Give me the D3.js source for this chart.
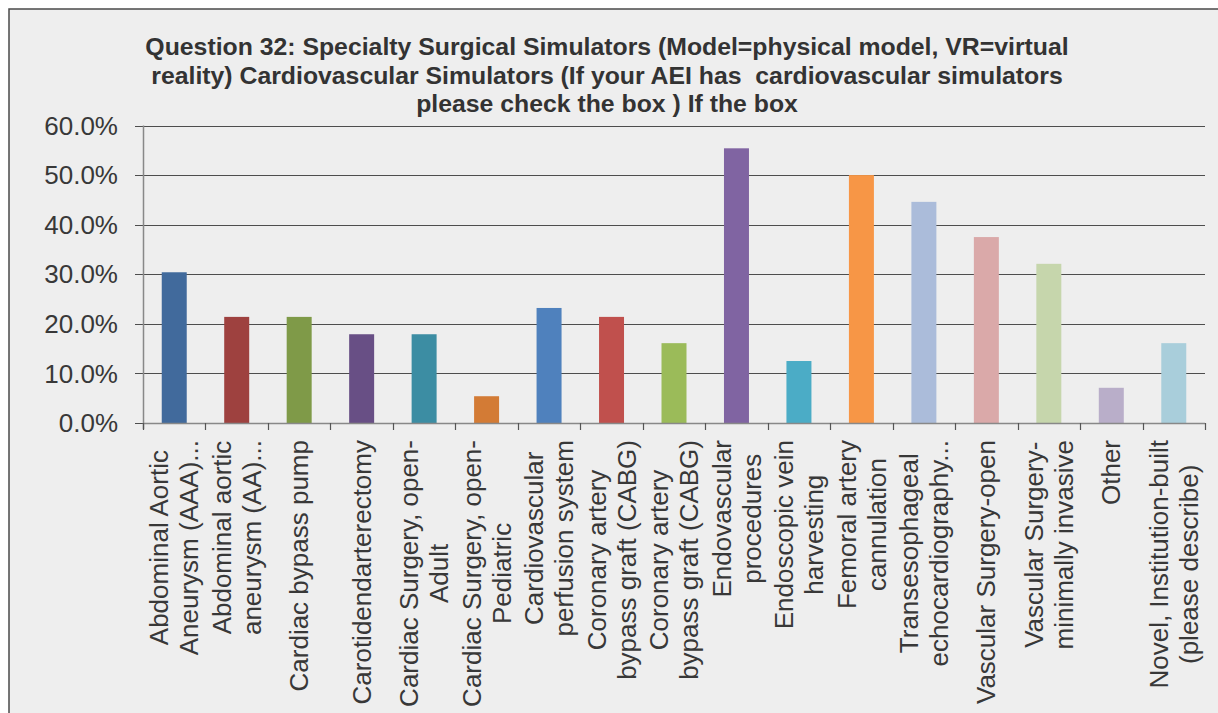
<!DOCTYPE html>
<html>
<head>
<meta charset="utf-8">
<script src="https://cdn.jsdelivr.net/npm/d3@7"></script>
<style>
  body { margin: 0; background: #fff; }
  text { font-family: "Liberation Sans", Arial, sans-serif; fill: #383838; }
</style>
</head>
<body>
<div id="chart"></div>
<script>
// ---------------------- data ----------------------
var titleLines = [
  "Question 32: Specialty Surgical Simulators (Model=physical model, VR=virtual",
  "reality) Cardiovascular Simulators (If your AEI has  cardiovascular simulators",
  "please check the box ) If the box"
];

var categories = [
  ["Abdominal Aortic", "Aneurysm (AAA)..."],
  ["Abdominal aortic", "aneurysm (AA)..."],
  ["Cardiac bypass pump"],
  ["Carotidendarterectomy"],
  ["Cardiac Surgery, open-", "Adult"],
  ["Cardiac Surgery, open-", "Pediatric"],
  ["Cardiovascular", "perfusion system"],
  ["Coronary artery", "bypass graft (CABG)"],
  ["Coronary artery", "bypass graft (CABG)"],
  ["Endovascular", "procedures"],
  ["Endoscopic vein", "harvesting"],
  ["Femoral artery", "cannulation"],
  ["Transesophageal", "echocardiography..."],
  ["Vascular Surgery-open"],
  ["Vascular Surgery-", "minimally invasive"],
  ["Other"],
  ["Novel, Institution-built", "(please describe)"]
];

var values = [0.304, 0.214, 0.214, 0.179, 0.179, 0.054, 0.232, 0.214, 0.161,
              0.554, 0.125, 0.500, 0.446, 0.375, 0.321, 0.071, 0.161];

var colors = ["#416A9C", "#9E413F", "#7F9A48", "#684F85", "#3C8DA3", "#D37B35",
              "#4F81BD", "#C0504D", "#9BBB59", "#8064A2", "#4BACC6", "#F79646",
              "#ABBCDA", "#DAA9A9", "#C6D6AC", "#B9AEC9", "#A9CEDB"];

var yTicks = [0, 0.1, 0.2, 0.3, 0.4, 0.5, 0.6];

// ---------------------- chart ----------------------
var W = 1218, H = 713;
var svg = d3.select("#chart")
     .append("svg")
     .attr("width", W)
     .attr("height", H);

// chart area background + border (only top/left visible)
svg.append("rect")
     .attr("x", 9).attr("y", 9)
     .attr("width", W).attr("height", H)
     .attr("fill", "#EEEEEE")
     .attr("stroke", "#4a4a4a")
     .attr("stroke-width", 1.5);

var x0 = 143, x1 = 1205, yTop = 125.5, yBot = 423;

var x = d3.scaleBand()
     .domain(d3.range(categories.length))
     .range([x0, x1])
     .padding(0);

var y = d3.scaleLinear()
     .domain([0, 0.6])
     .range([yBot, yTop]);

// title
svg.append("g").selectAll("text")
     .data(titleLines)
     .enter()
     .append("text")
     .text(function(d) { return d; })
     .attr("x", 607)
     .attr("y", function(d, i) { return 55 + i * 28.5; })
     .attr("text-anchor", "middle")
     .style("white-space", "pre")
     .style("font-size", "24.8px")
     .style("font-weight", "bold")
     .style("fill", "#333");

// gridlines
svg.append("g").selectAll("line")
     .data(yTicks)
     .enter()
     .append("line")
     .attr("x1", x0 - 8).attr("x2", x1)
     .attr("y1", function(d) { return Math.round(y(d)) + 0.5; })
     .attr("y2", function(d) { return Math.round(y(d)) + 0.5; })
     .attr("stroke", "#4d4d4d")
     .attr("stroke-width", 1.2);

// y labels
svg.append("g").selectAll("text")
     .data(yTicks)
     .enter()
     .append("text")
     .text(function(d) { return d3.format(".1%")(d); })
     .attr("x", 118)
     .attr("y", function(d) { return y(d); })
     .attr("dy", "0.35em")
     .attr("text-anchor", "end")
     .style("font-size", "26px");

// y axis line
svg.append("line")
     .attr("x1", x0 + 0.5).attr("x2", x0 + 0.5)
     .attr("y1", yTop).attr("y2", yBot + 6)
     .attr("stroke", "#888")
     .attr("stroke-width", 1.5);

// bars
var bw = x.bandwidth();
svg.append("g").selectAll("rect")
     .data(values)
     .enter()
     .append("rect")
     .attr("x", function(d, i) { return x(i) + bw * 0.3; })
     .attr("width", bw * 0.4)
     .attr("y", function(d) { return y(d); })
     .attr("height", function(d) { return yBot - y(d); })
     .attr("fill", function(d, i) { return colors[i]; });

// x axis line + ticks
svg.append("line")
     .attr("x1", x0).attr("x2", x1)
     .attr("y1", yBot + 0.5).attr("y2", yBot + 0.5)
     .attr("stroke", "#888")
     .attr("stroke-width", 1.5);

var bounds = d3.range(categories.length + 1).map(function(i) { return x0 + i * x.step(); });
svg.append("g").selectAll("line")
     .data(bounds)
     .enter()
     .append("line")
     .attr("x1", function(d) { return Math.round(d) + 0.5; })
     .attr("x2", function(d) { return Math.round(d) + 0.5; })
     .attr("y1", yBot).attr("y2", yBot + 7)
     .attr("stroke", "#555")
     .attr("stroke-width", 1.2);

// category labels, rotated, lines centred on each other, block starts at y=440
var lineGap = 30;
var labels = svg.append("g").selectAll("g")
     .data(categories)
     .enter()
     .append("g");

labels.each(function(lines, i) {
  var g = d3.select(this);
  var cx = x(i) + bw / 2;
  var t = g.selectAll("text")
       .data(lines)
       .enter()
       .append("text")
       .text(function(d) { return d; })
       .attr("text-anchor", "middle")
       .style("font-size", "26px");
  var maxLen = d3.max(t.nodes(), function(n) { return n.getComputedTextLength(); });
  var cy = 440 + maxLen / 2;
  t.attr("transform", function(d, j) {
      var lx = cx + (j - (lines.length - 1) / 2) * lineGap;
      return "translate(" + lx + "," + cy + ") rotate(-90)";
    })
    .attr("dy", "0.35em");
});
</script>
</body>
</html>
